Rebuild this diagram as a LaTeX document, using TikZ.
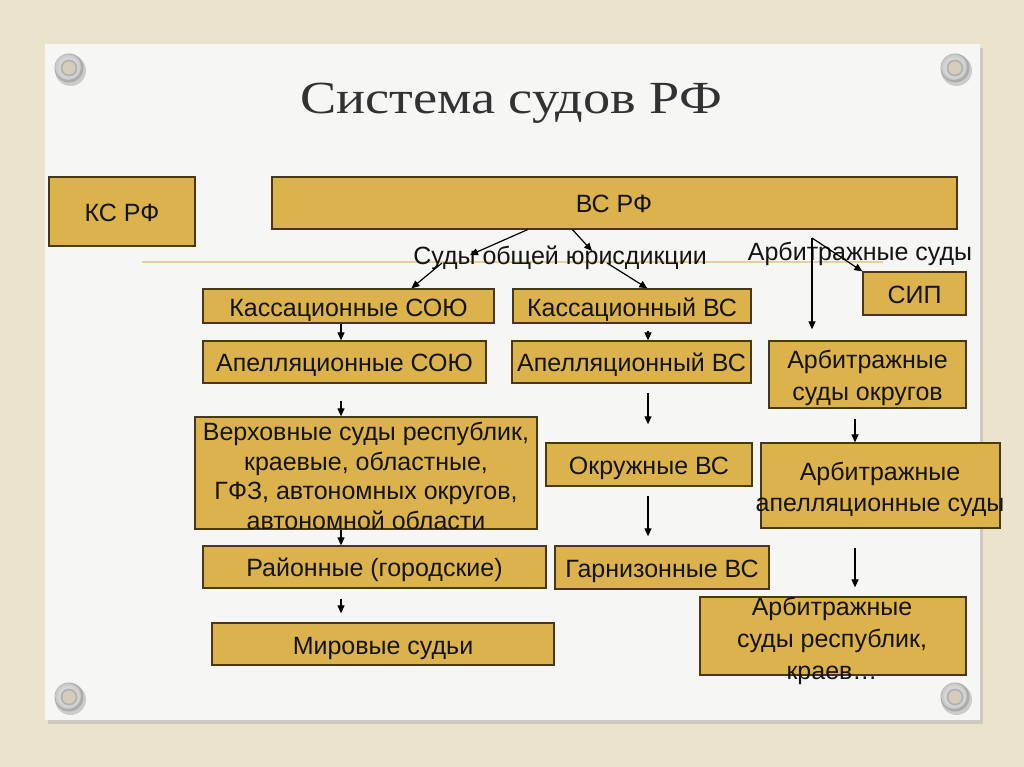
\documentclass[tikz,border=0pt]{standalone}
\usepackage{fontspec}
\setmainfont{Liberation Sans}
\newfontfamily\titlefont{Liberation Serif}
\usetikzlibrary{arrows.meta,calc}
\definecolor{canvas}{RGB}{236,227,205}
\definecolor{paper}{RGB}{246,246,245}
\definecolor{boxfill}{RGB}{219,178,76}
\definecolor{boxline}{RGB}{72,56,22}
\definecolor{rulecol}{RGB}{228,208,158}
\definecolor{titlegray}{RGB}{50,50,50}
\definecolor{holecol}{RGB}{214,204,186}
\tikzset{
  box/.style={draw=boxline, line width=1.3pt, fill=boxfill, inner sep=0pt, rectangle},
  txt/.style={font=\fontsize{25}{30}\selectfont, text=black!92, align=center, inner sep=0pt},
  txtone/.style={txt, text height=18pt, text depth=0pt},
  arr/.style={-{Triangle[length=8pt,width=7pt]}, line width=1.2pt, black},
}
\newcommand\drawgrommet[2]{%
  \fill[black!40, opacity=0.45] (#1+1.5,#2+2.5) circle (15.5);
  \fill[gray!65] (#1,#2) circle (14.5);
  \shade[inner color=white, outer color=gray!45, shading=radial] (#1-1,#2-1) circle (13);
  \fill[gray!60] (#1,#2) circle (8.5);
  \fill[holecol] (#1,#2) circle (6.5);
}
\begin{document}
\begin{tikzpicture}[x=1pt,y=-1pt]
\useasboundingbox (0,0) rectangle (1024,767);
% background canvas and paper
\fill[canvas] (0,0) rectangle (1024,767);
\fill[black!30, opacity=0.5] (48,48) rectangle (983,724);
\fill[paper] (45,44) rectangle (980,720);
\drawgrommet{69}{68}
\drawgrommet{955}{68}
\drawgrommet{69}{697}
\drawgrommet{955}{697}
% title
\node[font=\titlefont\fontsize{46}{54}\selectfont, text=titlegray, inner sep=0pt, anchor=base, xscale=1.18, transform shape] (title) at (511,114) {Система судов РФ};
% decorative rule
\coordinate (ruleL) at (142,262);
\coordinate (ruleR) at (883,262);
\draw[rulecol, line width=1.2pt] (ruleL) -- (ruleR);
% boxes
\node[box, minimum width=146pt, minimum height=69pt] (ks) at (122,211.5) {};
\node[box, minimum width=685pt, minimum height=52pt] (vs) at (614.5,203) {};
\node[box, minimum width=291pt, minimum height=34pt] (kass1) at (348.5,306) {};
\node[box, minimum width=238pt, minimum height=34pt] (kass2) at (632,306) {};
\node[box, minimum width=103pt, minimum height=43pt] (sip) at (914.5,293.5) {};
\node[box, minimum width=283pt, minimum height=42pt] (apel1) at (344.5,362) {};
\node[box, minimum width=239pt, minimum height=42pt] (apel2) at (631.5,362) {};
\node[box, minimum width=197pt, minimum height=67pt] (arbokr) at (867.5,374.5) {};
\node[box, minimum width=342pt, minimum height=112pt] (verh) at (366,473) {};
\node[box, minimum width=206pt, minimum height=43pt] (okr) at (649,464.5) {};
\node[box, minimum width=239pt, minimum height=85pt] (arbapel) at (880.5,485.5) {};
\node[box, minimum width=343pt, minimum height=42pt] (rayon) at (374.5,567) {};
\node[box, minimum width=214pt, minimum height=43pt] (garn) at (662,567.5) {};
\node[box, minimum width=342pt, minimum height=42pt] (mir) at (383,644) {};
\node[box, minimum width=266pt, minimum height=78pt] (arbresp) at (833,636) {};
% texts
\node[txtone] (ks-t) at (122,212.5) {КС РФ};
\node[txtone] (vs-t) at (614,204) {ВС РФ};
\node[txtone] (sou) at (560,255) {Суды общей юрисдикции};
\node[txtone] (arb) at (860,251) {Арбитражные суды};
\node[txtone] (kass1-t) at (348.5,307) {Кассационные СОЮ};
\node[txtone] (kass2-t) at (632,307) {Кассационный ВС};
\node[txtone] (sip-t) at (914.5,294) {СИП};
\node[txtone] (apel1-t) at (344.5,362.5) {Апелляционные СОЮ};
\node[txtone] (apel2-t) at (631.5,362.5) {Апелляционный ВС};
\node[txt, font=\fontsize{25}{32}\selectfont] (arbokr-t) at (867.5,378) {Арбитражные\\суды округов};
\node[txt, font=\fontsize{25}{29.7}\selectfont] (verh-t) at (366,476) {Верховные суды республик,\\краевые, областные,\\ГФЗ, автономных округов,\\автономной области};
\node[txtone] (okr-t) at (649,465) {Окружные ВС};
\node[txt, font=\fontsize{25}{31}\selectfont] (arbapel-t) at (880,489) {Арбитражные\\апелляционные суды};
\node[txtone] (rayon-t) at (374.5,567.5) {Районные (городские)};
\node[txtone] (garn-t) at (662,568) {Гарнизонные ВС};
\node[txtone] (mir-t) at (383,645) {Мировые судьи};
\node[txt, font=\fontsize{25}{32}\selectfont] (arbresp-t) at (832,641) {Арбитражные\\суды республик,\\краев…};
% column coordinates
\coordinate (colA) at (341,0);
\coordinate (colB) at (648,0);
\coordinate (colC) at (812,0);
\coordinate (colD) at (855,0);
\coordinate (arbsrc) at (812,238);
% connectors from top
\draw[arr] ($(vs.south)+(-87,0)$) -- ($(sou.center)+(-90,0)$);
\draw[arr] ($(vs.south)+(-42,0)$) -- ($(sou.center)+(32,-4)$);
\draw[arr] ($(sou.center)+(-118,8)$) -- ($(kass1.north west)+(209,0)$);
\draw[arr] ($(sou.center)+(47,8)$) -- ($(kass2.north west)+(135,0)$);
\draw[arr, shorten >=11pt] (arbsrc) -- (arbokr.north -| colC);
\draw[arr] (arbsrc) -- (sip.north west);
% left column
\draw[arr] (kass1.south -| colA) -- (apel1.north -| colA);
\draw[arr, shorten <=17pt] (apel1.south -| colA) -- (verh.north -| colA);
\draw[arr] (verh.south -| colA) -- (rayon.north -| colA);
\draw[arr, shorten <=10pt, shorten >=9pt] (rayon.south -| colA) -- (mir.north -| colA);
% middle column
\draw[arr, shorten <=7pt] (kass2.south -| colB) -- (apel2.north -| colB);
\draw[arr, shorten <=9pt, shorten >=18pt] (apel2.south -| colB) -- (okr.north -| colB);
\draw[arr, shorten <=9pt, shorten >=9pt] (okr.south -| colB) -- (garn.north -| colB);
% right column
\draw[arr, shorten <=10pt] (arbokr.south -| colD) -- (arbapel.north -| colD);
\draw[arr, shorten <=19pt, shorten >=9pt] (arbapel.south -| colD) -- (arbresp.north -| colD);
\end{tikzpicture}
\end{document}
